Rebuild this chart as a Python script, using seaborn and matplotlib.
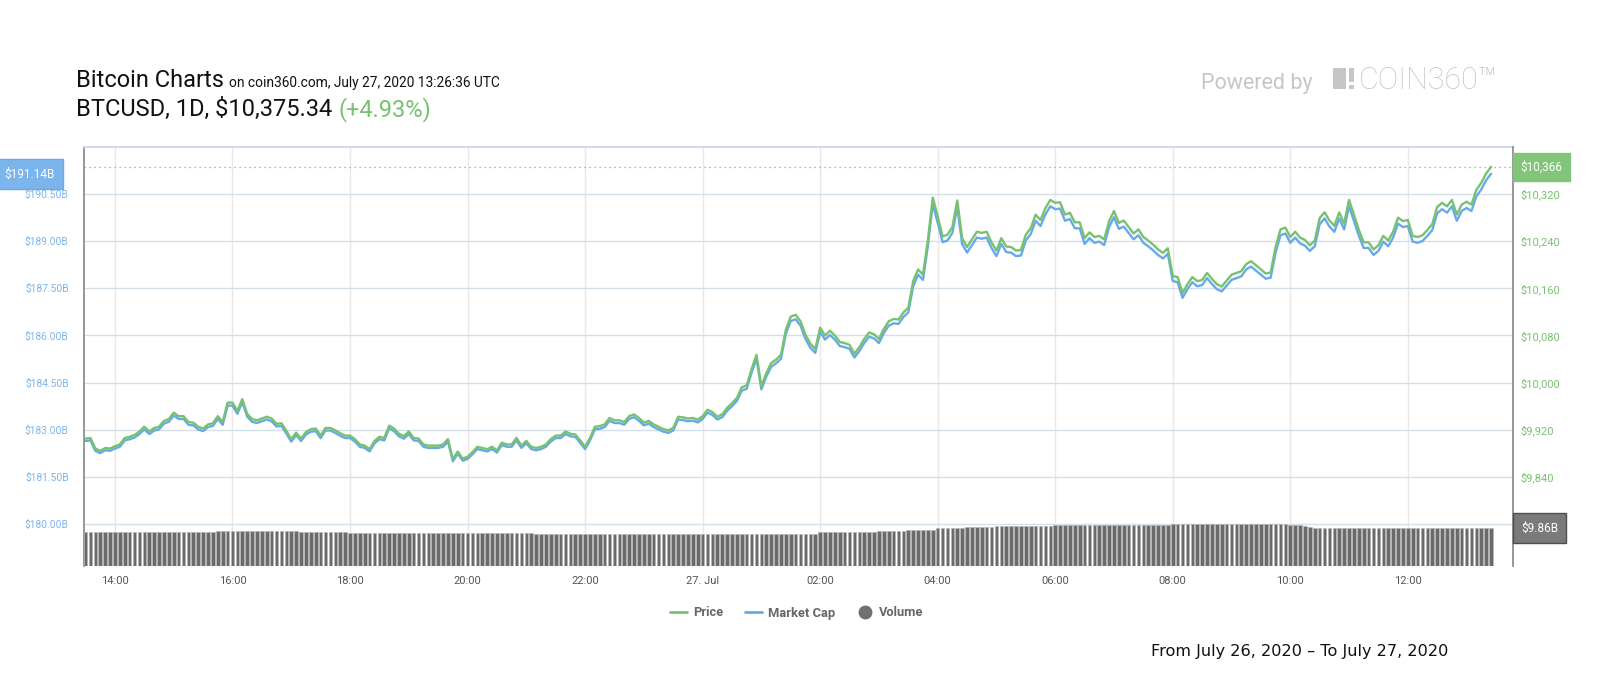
import matplotlib
matplotlib.use("Agg")
import matplotlib.dates as mdates
import matplotlib.pyplot as plt
import pandas as pd
import seaborn as sns
from matplotlib.lines import Line2D
from matplotlib.patches import Rectangle
from matplotlib.ticker import FuncFormatter
from matplotlib.transforms import blended_transform_factory

# BTC price, 5-minute steps from 26 Jul 13:30 UTC (one row per hour)
PRICE = [
    9905, 9906, 9888, 9884, 9889, 9888, 9892, 9895, 9906, 9908, 9911, 9917,
    9925, 9917, 9923, 9925, 9935, 9938, 9949, 9943, 9943, 9933, 9932, 9925,
    9922, 9929, 9931, 9943, 9933, 9966, 9966, 9952, 9972, 9947, 9938, 9936,
    9939, 9942, 9939, 9930, 9931, 9918, 9904, 9915, 9905, 9916, 9921, 9922,
    9910, 9923, 9923, 9919, 9914, 9910, 9910, 9904, 9895, 9893, 9887, 9901,
    9908, 9906, 9927, 9922, 9913, 9909, 9917, 9906, 9905, 9895, 9893, 9893,
    9893, 9895, 9904, 9870, 9883, 9871, 9874, 9882, 9891, 9889, 9887, 9891,
    9885, 9898, 9895, 9895, 9906, 9893, 9901, 9891, 9889, 9891, 9895, 9904,
    9910, 9910, 9917, 9913, 9912, 9902, 9891, 9906, 9925, 9926, 9929, 9940,
    9936, 9936, 9933, 9943, 9946, 9940, 9932, 9935, 9929, 9925, 9921, 9919,
    9923, 9942, 9941, 9939, 9940, 9937, 9943, 9954, 9950, 9942, 9946, 9957,
    9965, 9974, 9992, 9995, 10023, 10047, 9994, 10016, 10033, 10039, 10047, 10090,
    10112, 10115, 10104, 10081, 10066, 10057, 10093, 10080, 10088, 10080, 10069, 10067,
    10064, 10049, 10060, 10074, 10085, 10082, 10074, 10091, 10104, 10108, 10107, 10119,
    10127, 10172, 10192, 10183, 10242, 10314, 10282, 10248, 10251, 10264, 10309, 10245,
    10230, 10243, 10256, 10254, 10256, 10238, 10224, 10245, 10231, 10230, 10224, 10225,
    10251, 10262, 10285, 10276, 10296, 10310, 10305, 10306, 10285, 10288, 10272, 10272,
    10245, 10255, 10247, 10249, 10243, 10274, 10291, 10271, 10275, 10264, 10253, 10260,
    10247, 10241, 10234, 10226, 10220, 10228, 10181, 10179, 10152, 10167, 10179, 10172,
    10174, 10186, 10176, 10167, 10163, 10173, 10183, 10186, 10189, 10201, 10206, 10199,
    10192, 10185, 10187, 10230, 10260, 10263, 10247, 10256, 10246, 10242, 10233, 10241,
    10279, 10289, 10275, 10266, 10289, 10270, 10310, 10285, 10259, 10238, 10238, 10226,
    10233, 10249, 10241, 10256, 10280, 10274, 10276, 10249, 10247, 10250, 10259, 10269,
    10298, 10305, 10299, 10310, 10285, 10302, 10307, 10302, 10327, 10339, 10355, 10366,
]

# 24h volume in billions USD, same time steps
VOLUME_B = [
    8.90, 8.90, 8.90, 8.90, 8.90, 8.90, 8.90, 8.90, 8.90, 8.90, 8.90, 8.90,
    8.90, 8.90, 8.90, 8.90, 8.90, 8.90, 8.90, 8.90, 8.90, 8.90, 8.90, 8.90,
    8.90, 8.90, 8.90, 9.16, 9.16, 9.16, 9.16, 9.16, 9.16, 9.16, 9.16, 9.16,
    9.16, 9.16, 9.16, 9.16, 9.16, 9.16, 9.16, 9.16, 8.82, 8.82, 8.82, 8.82,
    8.82, 8.82, 8.82, 8.82, 8.82, 8.82, 8.56, 8.56, 8.56, 8.56, 8.56, 8.56,
    8.56, 8.56, 8.56, 8.56, 8.56, 8.56, 8.56, 8.56, 8.56, 8.56, 8.56, 8.56,
    8.56, 8.56, 8.56, 8.56, 8.56, 8.56, 8.56, 8.56, 8.56, 8.56, 8.56, 8.56,
    8.56, 8.56, 8.56, 8.56, 8.56, 8.56, 8.56, 8.56, 8.30, 8.30, 8.30, 8.30,
    8.30, 8.30, 8.30, 8.30, 8.30, 8.30, 8.30, 8.30, 8.30, 8.30, 8.30, 8.30,
    8.30, 8.30, 8.30, 8.30, 8.30, 8.30, 8.30, 8.30, 8.30, 8.30, 8.30, 8.30,
    8.30, 8.30, 8.30, 8.30, 8.30, 8.30, 8.30, 8.30, 8.30, 8.30, 8.30, 8.30,
    8.30, 8.30, 8.30, 8.30, 8.30, 8.30, 8.30, 8.30, 8.30, 8.30, 8.30, 8.30,
    8.30, 8.30, 8.30, 8.30, 8.30, 8.30, 8.82, 8.82, 8.82, 8.82, 8.82, 8.82,
    8.82, 8.82, 8.82, 8.82, 8.82, 8.82, 9.08, 9.08, 9.08, 9.08, 9.08, 9.08,
    9.34, 9.34, 9.34, 9.34, 9.34, 9.34, 9.86, 9.86, 9.86, 9.86, 9.86, 9.86,
    10.12, 10.12, 10.12, 10.12, 10.12, 10.12, 10.38, 10.38, 10.38, 10.38, 10.38, 10.38,
    10.38, 10.38, 10.38, 10.38, 10.38, 10.38, 10.64, 10.64, 10.64, 10.64, 10.64, 10.64,
    10.64, 10.64, 10.64, 10.64, 10.64, 10.64, 10.64, 10.64, 10.64, 10.64, 10.64, 10.64,
    10.64, 10.64, 10.64, 10.64, 10.64, 10.64, 10.77, 10.77, 10.77, 10.77, 10.77, 10.77,
    10.77, 10.77, 10.77, 10.77, 10.77, 10.77, 10.77, 10.77, 10.77, 10.77, 10.77, 10.77,
    10.77, 10.77, 10.77, 10.77, 10.77, 10.77, 10.64, 10.64, 10.64, 10.38, 10.12, 9.86,
    9.86, 9.86, 9.86, 9.86, 9.86, 9.86, 9.86, 9.86, 9.86, 9.86, 9.86, 9.86,
    9.86, 9.86, 9.86, 9.86, 9.86, 9.86, 9.86, 9.86, 9.86, 9.86, 9.86, 9.86,
    9.86, 9.86, 9.86, 9.86, 9.86, 9.86, 9.86, 9.86, 9.86, 9.86, 9.86, 9.86,
]

# market cap = price x circulating supply (191.14B / $10,366 on the end labels)
CIRC_SUPPLY = 18.4393e6

START = "2020-07-26 13:30"
CAP_TICKS = [180.0, 181.5, 183.0, 184.5, 186.0, 187.5, 189.0, 190.5]
PRICE_TICKS = [9840, 9920, 10000, 10080, 10160, 10240, 10320]
X_TICKS = pd.date_range("2020-07-26 14:00", periods=12, freq="2h")

GREEN = "#78c170"
BLUE = "#66aaea"
W, H = 1600, 700


def fx(px):
    return px / W


def fy(py):
    return 1 - py / H


df = pd.DataFrame({
    "time": pd.date_range(START, periods=len(PRICE), freq="5min"),
    "price": PRICE,
    "volume": VOLUME_B,
})
df["cap"] = df["price"] * CIRC_SUPPLY / 1e9

sns.set_theme(style="white")
plt.rcParams["font.family"] = ["Roboto", "DejaVu Sans"]

fig = plt.figure(figsize=(16, 7), dpi=100)
ax = fig.add_axes([fx(84), fy(566), fx(1513) - fx(84), fy(147) - fy(566)])
ax_p = ax.twinx()
ax_v = ax.twinx()

# volume bars at the bottom
ax_v.bar(df["time"], df["volume"], width=3.7 / 1440, color="#6a6a6a",
         edgecolor="#b4b4b4", linewidth=0.5, align="center")
ax_v.set_ylim(0, 9.86 * 419 / 38)
ax_v.set_yticks([])

# market cap (left axis) and price (right axis)
sns.lineplot(data=df, x="time", y="cap", ax=ax, color=BLUE, linewidth=1.7, legend=False)
sns.lineplot(data=df, x="time", y="price", ax=ax_p, color=GREEN, linewidth=1.7, legend=False)

ax.set_xlim(pd.Timestamp("2020-07-26 13:28:24"), pd.Timestamp("2020-07-27 13:47:24"))
ax.set_ylim(178.664, 191.995)
ax_p.set_ylim(9688.7, 10399.8)

ax.set_yticks(CAP_TICKS)
ax.set_yticklabels([f"${v:.2f}B" for v in CAP_TICKS])
ax.tick_params(axis="y", colors="#7cb5ec", labelsize=7.4, length=0, pad=11)
ax_p.set_yticks(PRICE_TICKS)
ax_p.set_yticklabels([f"${v:,}" for v in PRICE_TICKS])
ax_p.tick_params(axis="y", colors=GREEN, labelsize=8, length=0, pad=5)


def xfmt(x, pos):
    d = mdates.num2date(x)
    return f"{d.day}. {d.strftime('%b')}" if d.hour == 0 else d.strftime("%H:%M")


ax.set_xticks(X_TICKS)
ax.xaxis.set_major_formatter(FuncFormatter(xfmt))
ax.tick_params(axis="x", colors="#555555", labelsize=8, length=0, pad=7)
for a in (ax, ax_p, ax_v):
    a.set_xlabel("")
    a.set_ylabel("")

ax.grid(axis="y", color="#d3dfe9", linewidth=1)
ax.grid(axis="x", color="#e8e8e8", linewidth=1)
ax.set_axisbelow(True)

for a in (ax, ax_p, ax_v):
    for s in a.spines.values():
        s.set_visible(False)
ax.spines["left"].set_visible(True)
ax.spines["left"].set_color("#8a8a8a")
ax.spines["top"].set_visible(True)
ax.spines["top"].set_color("#ccd6eb")
ax_p.spines["right"].set_visible(True)
ax_p.spines["right"].set_color("#8a8a8a")

# last value markers
last_price = PRICE[-1]
last_cap = df["cap"].iloc[-1]
last_vol = VOLUME_B[-1]
ax_p.axhline(last_price, color="#9a9a9a", linestyle=(0, (1, 3)), linewidth=0.9)

ax.annotate(f"${last_cap:.2f}B", xy=(0, last_cap),
            xycoords=blended_transform_factory(ax.transAxes, ax.transData),
            xytext=(-21, 0), textcoords="offset points", ha="right", va="center",
            color="white", fontsize=8.5,
            bbox=dict(boxstyle="square,pad=0.72", fc="#7cb5ec", ec="#6ea8e2"),
            annotation_clip=False)
ax_p.annotate(f"${last_price:,}", xy=(1, last_price),
              xycoords=blended_transform_factory(ax_p.transAxes, ax_p.transData),
              xytext=(5.5, 0), textcoords="offset points", ha="left", va="center",
              color="white", fontsize=8.5,
              bbox=dict(boxstyle="square,pad=0.62", fc="#80c57a", ec="#80c57a"),
              annotation_clip=False)
ax_v.annotate(f"${last_vol:.2f}B", xy=(1, last_vol),
              xycoords=blended_transform_factory(ax_v.transAxes, ax_v.transData),
              xytext=(6, 0), textcoords="offset points", ha="left", va="center",
              color="white", fontsize=8.5,
              bbox=dict(boxstyle="square,pad=0.68", fc="#7a7a7a", ec="#4e4e4e"),
              annotation_clip=False)

# header
renderer = fig.canvas.get_renderer()


def right_px(t):
    return t.get_window_extent(renderer).x1


t1 = fig.text(fx(76), fy(87), "Bitcoin Charts", fontsize=17, color="#111111", va="baseline")
fig.text((right_px(t1) + 5) / W, fy(87), "on coin360.com, July 27, 2020 13:26:36 UTC",
         fontsize=9.9, color="#111111", va="baseline")
t2 = fig.text(fx(76), fy(116), "BTCUSD, 1D, $10,375.34", fontsize=17, color="#111111",
              va="baseline")
fig.text((right_px(t2) + 6) / W, fy(116), "(+4.93%)", fontsize=17, color=GREEN, va="baseline")

fig.text(fx(1201), fy(89), "Powered by", fontsize=15.5, color="#c6c6c6", va="baseline")
for x0, y0, x1, y1 in [(1333, 68, 1346, 89), (1349, 68, 1354, 82), (1349, 85, 1354, 89)]:
    fig.patches.append(Rectangle((fx(x0), fy(y1)), fx(x1) - fx(x0), fy(y0) - fy(y1),
                                 transform=fig.transFigure, fc="#c6c6c6", ec="none"))
fig.text(fx(1359), fy(89), "COIN360™", fontsize=22, fontweight="light", color="#c6c6c6",
         va="baseline")

# legend
handles = [
    Line2D([], [], color=GREEN, linewidth=2),
    Line2D([], [], color=BLUE, linewidth=2),
    Line2D([], [], color="#707070", marker="o", linestyle="", markersize=9),
]
fig.legend(handles, ["Price", "Market Cap", "Volume"], loc="center",
           bbox_to_anchor=(fx(797), fy(613)), ncol=3, frameon=False,
           prop=dict(weight="bold", size=9.3), labelcolor="#666666",
           handlelength=1.3, handletextpad=0.45, columnspacing=1.7)

fig.text(fx(1151), fy(656), "From July 26, 2020 \u2013 To July 27, 2020",
         family="DejaVu Sans", fontsize=11.6, color="#111111", va="baseline")

fig.savefig("out.png", dpi=100)
